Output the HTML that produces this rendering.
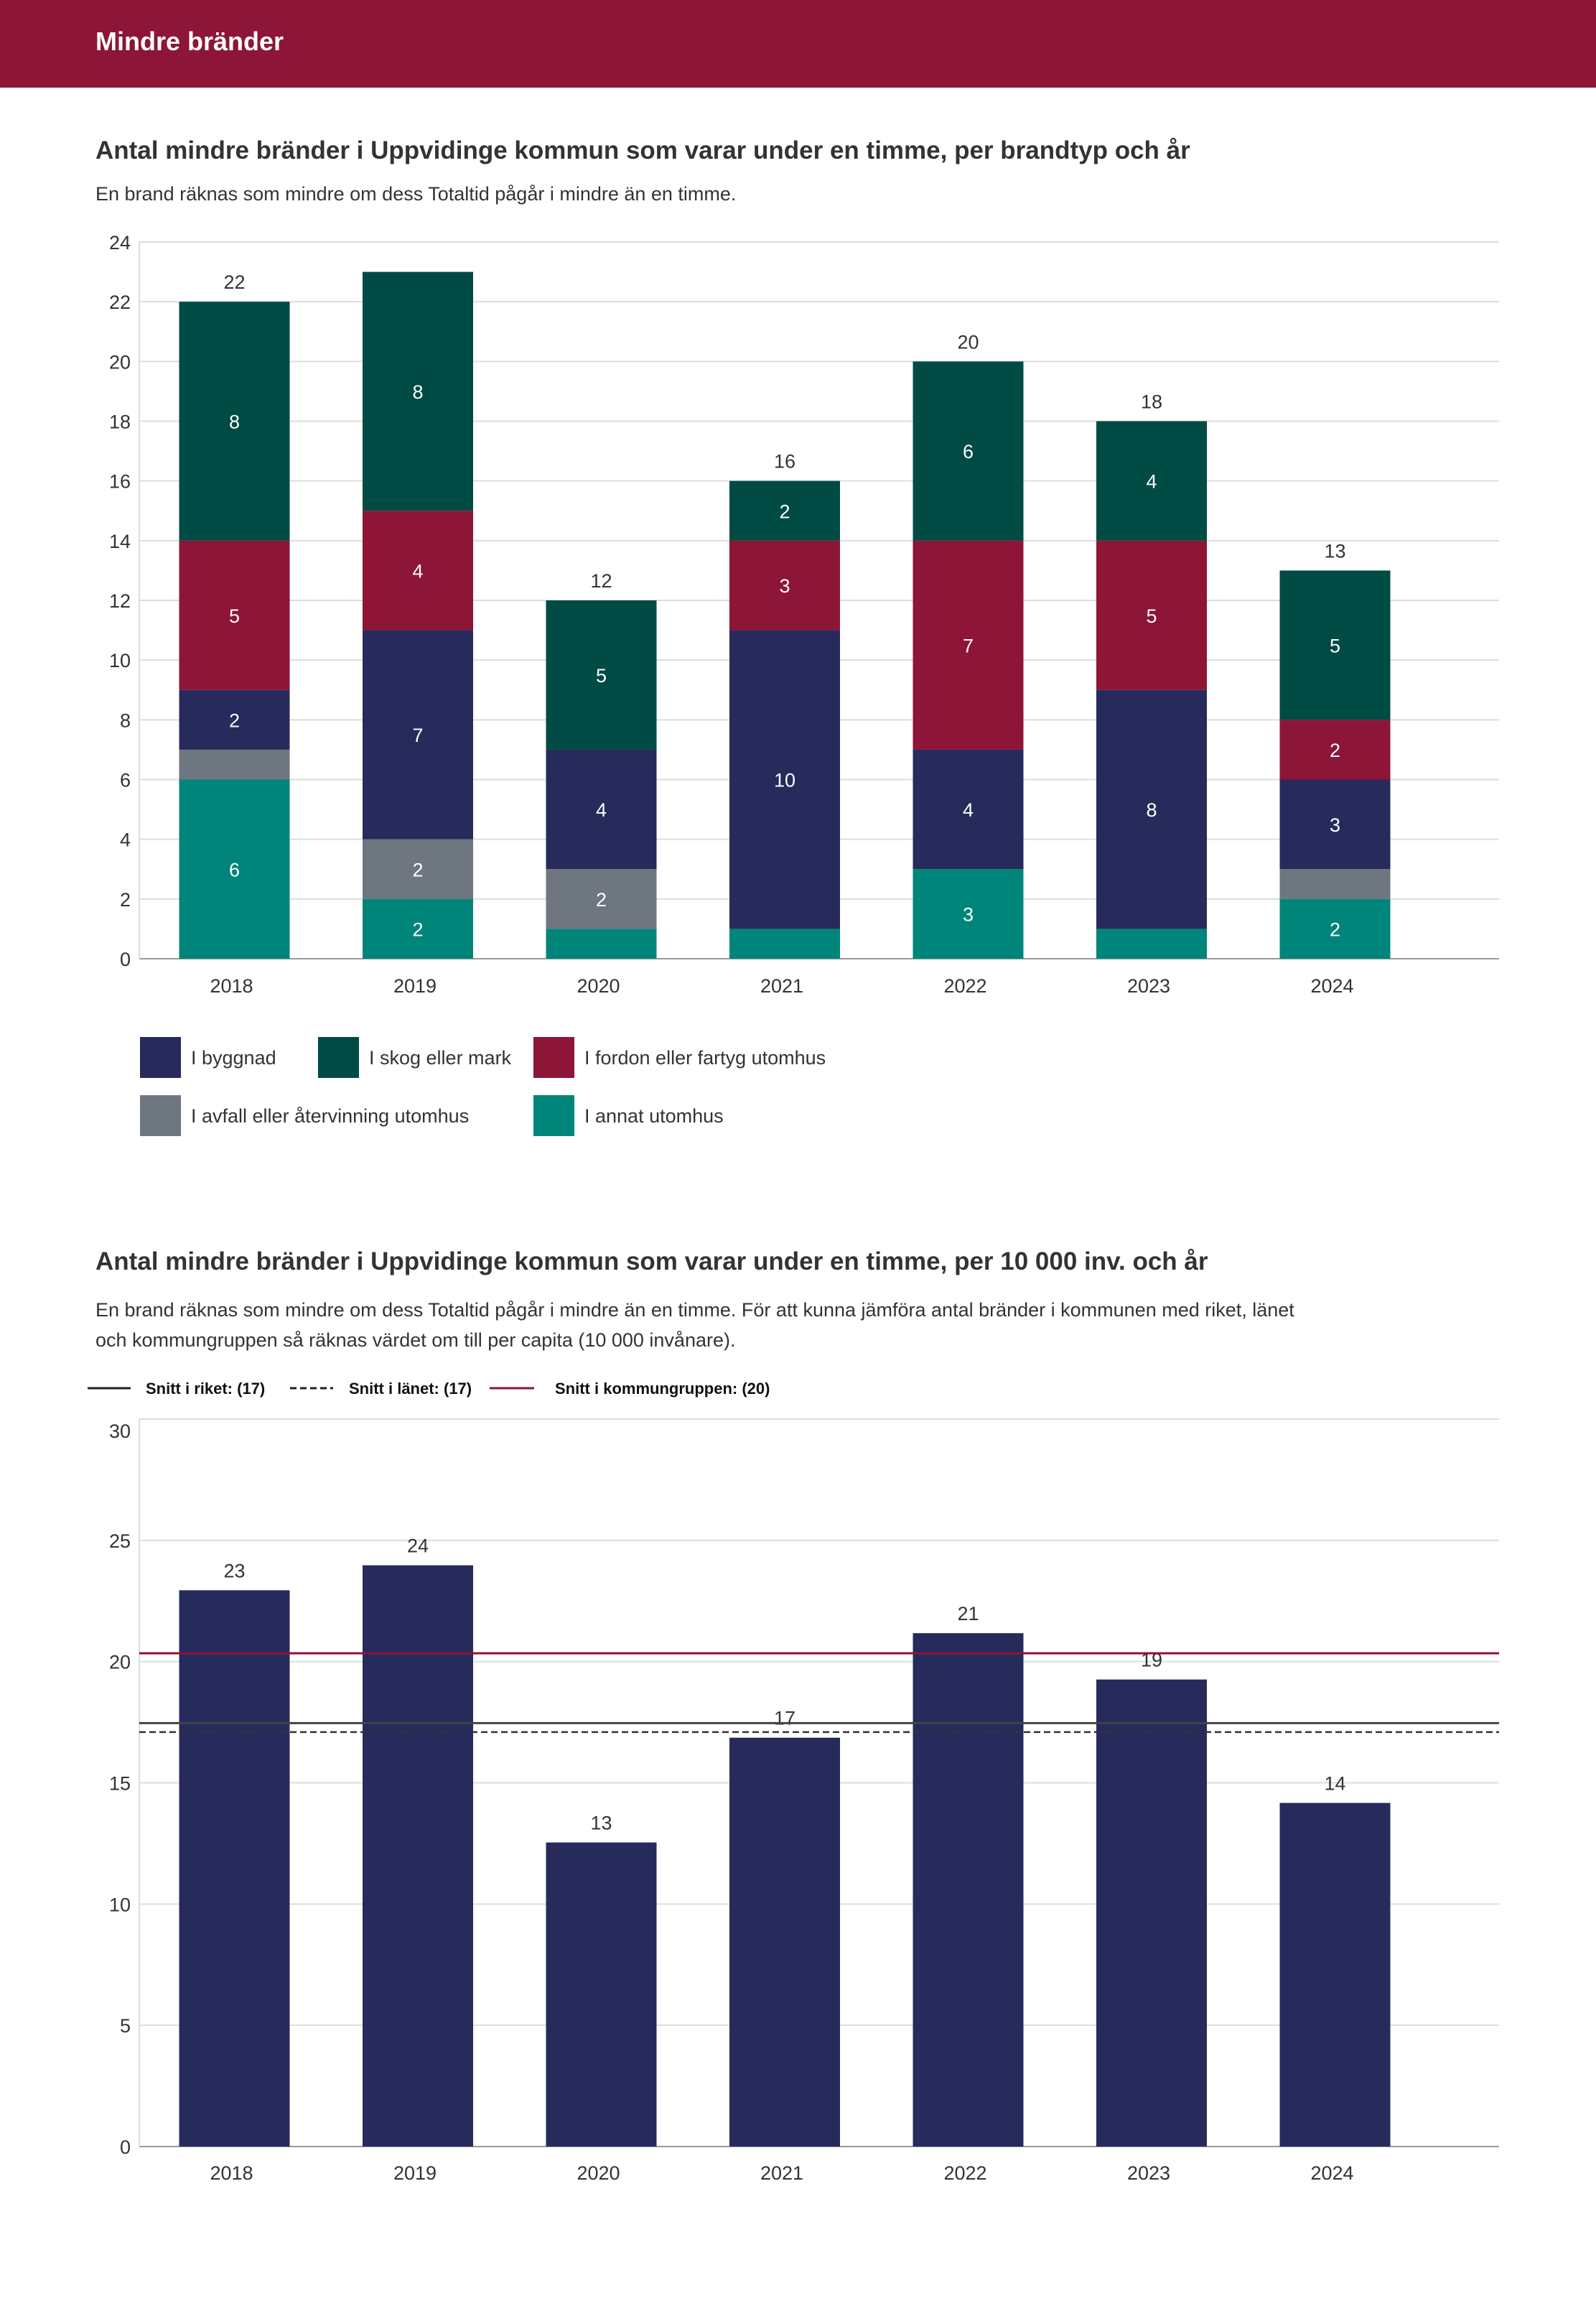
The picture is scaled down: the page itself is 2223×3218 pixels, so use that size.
<!DOCTYPE html>
<html><head><meta charset="utf-8"><style>
html,body{margin:0;padding:0;background:#fff;}
body{width:2223px;height:3213px;overflow:hidden;font-family:"Liberation Sans",sans-serif;}
</style></head><body>
<svg id="page" width="2223" height="3213" viewBox="0 0 2223 3213" xmlns="http://www.w3.org/2000/svg" font-family="Liberation Sans, sans-serif">
<rect x="0" y="0" width="2223" height="122" fill="#8c1538"/>
<text x="133" y="70" font-size="36" font-weight="bold" fill="#fff">Mindre bränder</text>
<text x="133" y="221" font-size="35" font-weight="bold" fill="#333">Antal mindre bränder i Uppvidinge kommun som varar under en timme, per brandtyp och år</text>
<text x="133" y="279" font-size="27" fill="#333">En brand räknas som mindre om dess Totaltid pågår i mindre än en timme.</text>
<g id="c1"></g>
<g id="leg1"></g>
<text x="133" y="1768" font-size="35" font-weight="bold" fill="#333">Antal mindre bränder i Uppvidinge kommun som varar under en timme, per 10 000 inv. och år</text>
<text x="133" y="1833" font-size="27" fill="#333">En brand räknas som mindre om dess Totaltid pågår i mindre än en timme. För att kunna jämföra antal bränder i kommunen med riket, länet</text>
<text x="133" y="1875" font-size="27" fill="#333">och kommungruppen så räknas värdet om till per capita (10 000 invånare).</text>
<g>
<line x1="122" y1="1933" x2="182" y2="1933" stroke="#222" stroke-width="3"/>
<text x="203" y="1941" font-size="22" font-weight="bold" fill="#111">Snitt i riket: (17)</text>
<line x1="404" y1="1933" x2="464" y2="1933" stroke="#222" stroke-width="3" stroke-dasharray="9,5"/>
<text x="486" y="1941" font-size="22" font-weight="bold" fill="#111">Snitt i länet: (17)</text>
<line x1="682" y1="1933" x2="744" y2="1933" stroke="#8c1538" stroke-width="3"/>
<text x="773" y="1941" font-size="22" font-weight="bold" fill="#111">Snitt i kommungruppen: (20)</text>
</g>
<g id="c2"></g>
</svg>
<script>
const years = ["2018","2019","2020","2021","2022","2023","2024"];
const annat = [6,2,1,1,3,1,2];
const avfall = [1,2,2,0,0,0,1];
const byggnad = [2,7,4,10,4,8,3];
const fordon = [5,4,0,3,7,5,2];
const skog = [8,8,5,2,6,4,5];
const totalLabels = ["22","","12","16","20","18","13"];
const ticks1 = [0,2,4,6,8,10,12,14,16,18,20,22,24];
const perCapita = [22.94,23.97,12.54,16.86,21.17,19.26,14.17];
const perCapitaLabels = ["23","24","13","17","21","19","14"];
const ticks2 = [0,5,10,15,20,25,30];
const avgRiket = 17.46;
const avgLanet = 17.09;
const avgGrupp = 20.34;

const NS="http://www.w3.org/2000/svg";
function mk(parent,tag,attrs,text){const e=document.createElementNS(NS,tag);for(const k in attrs)e.setAttribute(k,attrs[k]);if(text!==undefined)e.textContent=text;parent.appendChild(e);return e;}
const X0=194,X1=2088,step=255.5,bw=154,firstC=326.5;
const xc=i=>firstC+i*step;

// chart 1
const c1=document.getElementById('c1');
const y1=v=>1335-v*(1335-337)/24;
ticks1.forEach(t=>{
  const l=mk(c1,'line',{x1:X0,x2:X1,y1:y1(t),y2:y1(t),stroke:t===0?'#999':'#ddd','stroke-width':2});
  
  
  const tx=mk(c1,'text',{x:182,y:y1(t)+10,'text-anchor':'end','font-size':27,fill:'#333'},String(t));
  
  
});
mk(c1,'line',{x1:X0,x2:X0,y1:337,y2:1335,stroke:'#ddd','stroke-width':2});
const series=[["annat",annat,"#00857a"],["avfall",avfall,"#6e7680"],["byggnad",byggnad,"#262b5c"],["fordon",fordon,"#8c1538"],["skog",skog,"#004b44"]];
years.forEach((yr,i)=>{
  let base=0;
  series.forEach(([nm,arr,col])=>{
    const v=arr[i]; if(!v)return;
    const r=mk(c1,'rect',{x:xc(i)-bw/2,y:y1(base+v),width:bw,height:y1(base)-y1(base+v),fill:col});
    
    
    if(v>=2){const t=mk(c1,'text',{x:xc(i),y:(y1(base)+y1(base+v))/2+10,'text-anchor':'middle','font-size':27,fill:'#fff'},String(v));
      
      }
    base+=v;
  });
  if(totalLabels[i]){const t=mk(c1,'text',{x:xc(i),y:y1(base)-18,'text-anchor':'middle','font-size':27,fill:'#333'},totalLabels[i]);
    
    }
  const xl=mk(c1,'text',{x:xc(i)-4,y:1382,'text-anchor':'middle','font-size':27,fill:'#333'},yr);
  
  
});
// legend
const leg=document.getElementById('leg1');
[["I byggnad","#262b5c",195,1444],["I skog eller mark","#004b44",443,1444],["I fordon eller fartyg utomhus","#8c1538",743,1444],["I avfall eller återvinning utomhus","#6e7680",195,1525],["I annat utomhus","#00857a",743,1525]].forEach(([lab,col,x,y])=>{
  const g=mk(leg,'g',{});
  
  
  mk(g,'rect',{x:x,y:y,width:57,height:57,fill:col});
  mk(g,'text',{x:x+71,y:y+38,'font-size':27,fill:'#333'},lab);
});

// chart 2
const c2=document.getElementById('c2');
const y2=v=>2989-v*(2989-1976)/30;
ticks2.forEach(t=>{
  const l=mk(c2,'line',{x1:X0,x2:X1,y1:y2(t),y2:y2(t),stroke:t===0?'#999':'#ddd','stroke-width':2});
  
  
  const tx=mk(c2,'text',{x:182,y:y2(t)+(t===30?26:10),'text-anchor':'end','font-size':27,fill:'#333'},String(t));
  
  
});
mk(c2,'line',{x1:X0,x2:X0,y1:1976,y2:2989,stroke:'#ddd','stroke-width':2});
years.forEach((yr,i)=>{
  const r=mk(c2,'rect',{x:xc(i)-bw/2,y:y2(perCapita[i]),width:bw,height:2989-y2(perCapita[i]),fill:'#262b5c'});
  
  
  const t=mk(c2,'text',{x:xc(i),y:y2(perCapita[i])-18,'text-anchor':'middle','font-size':27,fill:'#333'},perCapitaLabels[i]);
  
  
  const xl=mk(c2,'text',{x:xc(i)-4,y:3035,'text-anchor':'middle','font-size':27,fill:'#333'},yr);
  
  
});
const lr=mk(c2,'line',{x1:X0,x2:X1,y1:y2(avgRiket),y2:y2(avgRiket),stroke:'#444','stroke-width':3});


const ll=mk(c2,'line',{x1:X0,x2:X1,y1:y2(avgLanet),y2:y2(avgLanet),stroke:'#333','stroke-width':2.5,'stroke-dasharray':'9,5'});


const lg=mk(c2,'line',{x1:X0,x2:X1,y1:y2(avgGrupp),y2:y2(avgGrupp),stroke:'#8c1538','stroke-width':3});


</script>
</body></html>
